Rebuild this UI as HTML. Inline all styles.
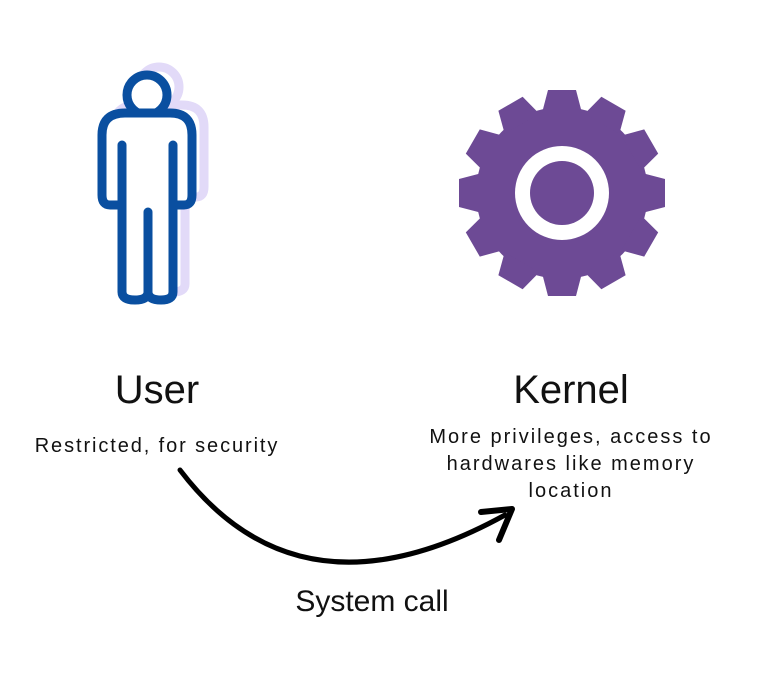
<!DOCTYPE html>
<html><head><style>
body{margin:0;background:#fff;width:766px;height:670px;overflow:hidden;font-family:"Liberation Sans",sans-serif;}
</style></head><body>
<svg width="766" height="670" viewBox="0 0 766 670" xmlns="http://www.w3.org/2000/svg">
<g transform="translate(12,-8)" fill="none" stroke="#e2daf8" stroke-width="9" stroke-linecap="round" stroke-linejoin="round">
<circle cx="147" cy="95" r="20"/>
<path d="M122 145 V292 Q122 300 135 300 Q148 300 148 292 Q148 300 161 300 Q173 300 173 292 V145"/>
<path d="M122 205 H110 Q102 205 102 195 V135 Q102 113 125 113 H170 Q192 113 192 135 V195 Q192 205 184 205 H173"/>
</g>
<g fill="none" stroke="#0a4fa0" stroke-width="9" stroke-linecap="round" stroke-linejoin="round">
<circle cx="147" cy="95" r="20" fill="#fff"/>
<path d="M122 205 H110 Q102 205 102 195 V135 Q102 113 125 113 H170 Q192 113 192 135 V195 Q192 205 184 205 H173" fill="#fff"/>
<path d="M122 145 V292 Q122 300 135 300 Q148 300 148 292 Q148 300 161 300 Q173 300 173 292 V145" fill="#fff"/>
<path d="M148 212 V294"/>
</g>
<g transform="translate(562,193)" fill="#6d4a95">
<circle r="86"/>
<g id="t"><polygon points="-20,-80 20,-80 14,-103 -14,-103"/></g>
<use href="#t" transform="rotate(30)"/><use href="#t" transform="rotate(60)"/><use href="#t" transform="rotate(90)"/>
<use href="#t" transform="rotate(120)"/><use href="#t" transform="rotate(150)"/><use href="#t" transform="rotate(180)"/>
<use href="#t" transform="rotate(210)"/><use href="#t" transform="rotate(240)"/><use href="#t" transform="rotate(270)"/>
<use href="#t" transform="rotate(300)"/><use href="#t" transform="rotate(330)"/>
<circle r="47" fill="#fff"/>
<circle r="32"/>
</g>
<path d="M180 470 Q300 628 505 515" fill="none" stroke="#000" stroke-width="5" stroke-linecap="round"/>
<path d="M481 512 L512 509 L499 540" fill="none" stroke="#000" stroke-width="6" stroke-linecap="round" stroke-linejoin="round"/>
<g font-family="Liberation Sans, sans-serif" fill="#111" text-anchor="middle">
<text x="157" y="403" font-size="40">User</text>
<text x="571" y="403" font-size="40">Kernel</text>
<text x="157" y="452" font-size="20" letter-spacing="1.9">Restricted, for security</text>
<text x="571" y="443" font-size="20" letter-spacing="2">More privileges, access to</text>
<text x="571" y="470" font-size="20" letter-spacing="2">hardwares like memory</text>
<text x="571" y="497" font-size="20" letter-spacing="2">location</text>
<text x="372" y="611" font-size="30">System call</text>
</g>
</svg>
</body></html>
